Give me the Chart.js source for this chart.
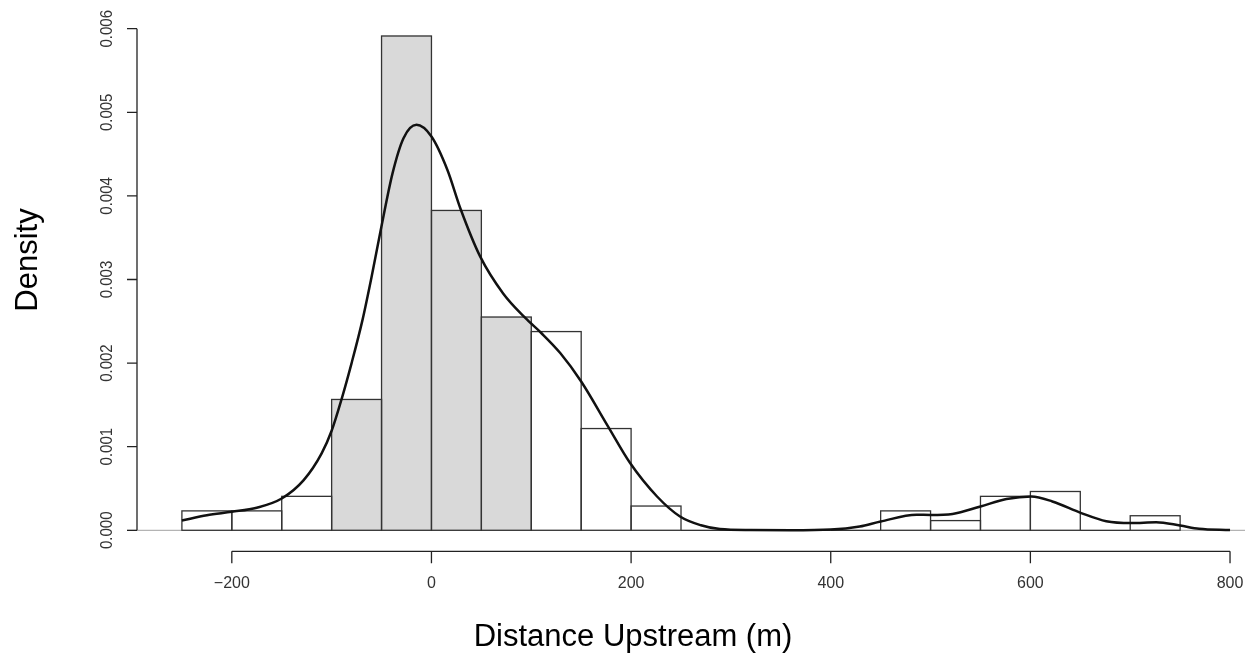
<!DOCTYPE html>
<html>
<head>
<meta charset="utf-8">
<title>Distance Upstream</title>
<script src="https://cdn.jsdelivr.net/npm/chart.js@4/dist/chart.umd.min.js"></script>
<style>
  html, body { margin: 0; padding: 0; background: #fff; }
  #wrap { width: 1250px; height: 656px; }
</style>
</head>
<body>
<div id="wrap"><canvas id="myChart" width="1250" height="656"></canvas></div>
<script>
// histogram bins (left edges) and densities
var binStarts = [-250, -200, -150, -100, -50, 0, 50, 100, 150, 200, 250, 300, 350, 400, 450, 500, 550, 600, 650, 700];
var binDensity = [0.000232, 0.000232, 0.000406, 0.001565, 0.005913, 0.003826, 0.002551, 0.002377, 0.001217, 0.00029,
                  0, 0, 0, 0, 0.000232, 0.000116, 0.000406, 0.000464, 0, 0.000174];
var binWidth = 50;
var shadedFrom = -100, shadedTo = 100;

// kernel density curve
var densX = [-250, -225, -200, -175, -150, -128, -110, -100, -90, -80, -69, -60, -51, -39, -28, -15, 0, 16, 29, 49,
             72, 94, 110, 129, 150, 177, 199, 226, 249, 270, 289, 320, 360, 400, 429, 450, 486, 500, 522, 550, 576,
             601, 622, 651, 676, 701, 726, 750, 769, 800];
var densY = [0.000117, 0.00018, 0.000221, 0.00027, 0.00038, 0.0006, 0.00092, 0.00119, 0.00157, 0.002, 0.00252,
             0.00303, 0.00358, 0.00427, 0.00469, 0.00485, 0.00471, 0.00431, 0.00385, 0.00327,
             0.00283, 0.00254, 0.00236, 0.00212, 0.00178, 0.00124, 0.000804, 0.000404, 0.000165, 0.00006, 0.000014,
             0.000002, 0, 0.000008, 0.000045, 0.000105, 0.000185, 0.000184, 0.000196, 0.000285, 0.000373,
             0.000404, 0.000345, 0.000206, 0.000108, 0.000086, 0.000096, 0.000057, 0.000018, 0.000002];

var xTicks = [-200, 0, 200, 400, 600, 800];
var xTickLabels = ['\u2212200', '0', '200', '400', '600', '800'];
var yTicks = [0, 0.001, 0.002, 0.003, 0.004, 0.005, 0.006];
var yTickLabels = ['0.000', '0.001', '0.002', '0.003', '0.004', '0.005', '0.006'];

var xTitle = 'Distance Upstream (m)';
var yTitle = 'Density';

var FONT = '"Liberation Sans", Arial, Helvetica, sans-serif';

var bars = binStarts.map(function (s, i) { return { x: s + binWidth / 2, y: binDensity[i] }; });
var barColors = binStarts.map(function (s) {
    return (s >= shadedFrom && s < shadedTo) ? '#d9d9d9' : '#ffffff';
});
var curve = densX.map(function (x, i) { return { x: x, y: densY[i] }; });

// R-style axes, outlines and titles
var rStyle = {
    id: 'rStyle',
    beforeDatasetsDraw: function (chart) {
        var ctx = chart.ctx, a = chart.chartArea, y0 = chart.scales.y.getPixelForValue(0);
        ctx.save();
        ctx.strokeStyle = '#b4b4b4';
        ctx.lineWidth = 1.3;
        ctx.beginPath();
        ctx.moveTo(a.left, y0);
        ctx.lineTo(a.right, y0);
        ctx.stroke();
        ctx.restore();
    },
    afterDatasetDraw: function (chart, args) {
        if (args.index !== 0) return;
        var ctx = chart.ctx;
        ctx.save();
        ctx.strokeStyle = '#333';
        ctx.lineWidth = 1.3;
        args.meta.data.forEach(function (el) {
            var p = el.getProps(['x', 'y', 'base', 'width'], true);
            ctx.strokeRect(p.x - p.width / 2, p.y, p.width, p.base - p.y);
        });
        ctx.restore();
    },
    afterDraw: function (chart) {
        var ctx = chart.ctx, a = chart.chartArea;
        var xs = chart.scales.x, ys = chart.scales.y;
        var y0 = ys.getPixelForValue(0);
        ctx.save();
        ctx.strokeStyle = '#222';
        ctx.fillStyle = '#333';
        ctx.lineWidth = 1.3;

        // y axis
        var ax = a.left + 10;
        ctx.beginPath();
        ctx.moveTo(ax, ys.getPixelForValue(yTicks[0]));
        ctx.lineTo(ax, ys.getPixelForValue(yTicks[yTicks.length - 1]));
        yTicks.forEach(function (v) {
            var py = ys.getPixelForValue(v);
            ctx.moveTo(ax, py);
            ctx.lineTo(ax - 10, py);
        });
        ctx.stroke();
        ctx.font = '15px ' + FONT;
        ctx.textAlign = 'center';
        ctx.textBaseline = 'alphabetic';
        yTicks.forEach(function (v, i) {
            ctx.save();
            ctx.translate(ax - 25, ys.getPixelForValue(v));
            ctx.rotate(-Math.PI / 2);
            ctx.scale(1, 1.12);
            ctx.fillText(yTickLabels[i], 0, 0);
            ctx.restore();
        });

        // x axis
        var ay = y0 + 21;
        ctx.beginPath();
        ctx.moveTo(xs.getPixelForValue(xTicks[0]), ay);
        ctx.lineTo(xs.getPixelForValue(xTicks[xTicks.length - 1]), ay);
        xTicks.forEach(function (v) {
            var px = xs.getPixelForValue(v);
            ctx.moveTo(px, ay);
            ctx.lineTo(px, ay + 12);
        });
        ctx.stroke();
        ctx.font = '16px ' + FONT;
        xTicks.forEach(function (v, i) {
            ctx.fillText(xTickLabels[i], xs.getPixelForValue(v), ay + 37);
        });

        // titles
        ctx.fillStyle = '#000';
        ctx.font = '31px ' + FONT;
        ctx.fillText(xTitle, 633, 646);
        ctx.save();
        ctx.translate(37, 260);
        ctx.rotate(-Math.PI / 2);
        ctx.fillText(yTitle, 0, 0);
        ctx.restore();
        ctx.restore();
    }
};

new Chart('myChart', {
    type: 'bar',
    data: {
        datasets: [{
            type: 'bar',
            data: bars,
            backgroundColor: barColors,
            borderWidth: 0,
            barPercentage: 1,
            categoryPercentage: 1,
            order: 1
        }, {
            type: 'line',
            data: curve,
            borderColor: '#111',
            borderWidth: 2.5,
            pointRadius: 0,
            fill: false,
            cubicInterpolationMode: 'monotone',
            order: 0
        }]
    },
    options: {
        responsive: false,
        animation: false,
        devicePixelRatio: 1,
        layout: { padding: { left: 127, right: 5, top: 12, bottom: 109 } },
        plugins: { legend: { display: false }, tooltip: { enabled: false } },
        scales: {
            x: { type: 'linear', min: -305, max: 815, offset: false, display: false },
            y: { type: 'linear', min: -0.0002, max: 0.0062, display: false }
        }
    },
    plugins: [rStyle]
});
</script>
</body>
</html>
